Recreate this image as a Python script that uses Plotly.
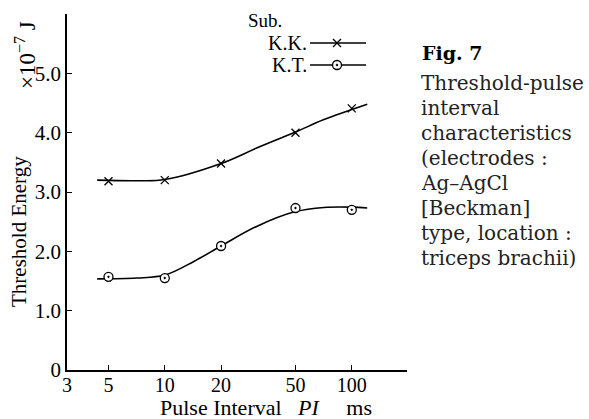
import math
import plotly.graph_objects as go

# ---- data ----
pulse_interval = [5, 10, 20, 50, 100]          # ms
kk_energy = [3.18, 3.20, 3.48, 4.00, 4.41]     # x10^-7 J, subject K.K.
kt_energy = [1.57, 1.55, 2.09, 2.73, 2.70]     # x10^-7 J, subject K.T.

# hand-drawn smoothing curves
kk_curve_x = [4.35, 7.1, 10, 20, 31, 50, 71, 121]
kk_curve_y = [3.20, 3.19, 3.21, 3.48, 3.74, 4.01, 4.22, 4.48]
kt_curve_x = [4.35, 7.1, 10, 14.3, 20, 31, 50, 71, 100, 121]
kt_curve_y = [1.535, 1.55, 1.60, 1.83, 2.09, 2.42, 2.67, 2.74, 2.745, 2.73]

x_tickvals = [3, 5, 10, 20, 50, 100]
x_ticktext = ["3", "5", "10", "20", "50", "100"]
y_tickvals = [0, 1, 2, 3, 4, 5]
y_ticktext = ["0", "1.0", "2.0", "3.0", "4.0", "5.0"]

caption_title = "<b>Fig. 7</b>"
caption_lines = ["Threshold-pulse", "interval", "characteristics",
                 "(electrodes :", "Ag–AgCl", "[Beckman]",
                 "type, location :", "triceps brachii)"]

SERIF = "Liberation Serif"
CAP = "DejaVu Serif"

W, H = 589, 419
ML, MR, MT, MB = 67, 182, 14, 49
PW = W - ML - MR
PH = H - MT - MB


def px(xp):
    return (xp - ML) / PW


def py(yp):
    return (H - MB - yp) / PH


fig = go.Figure()

line_style = dict(color="black", width=1.6, shape="spline", smoothing=1.0)
fig.add_trace(go.Scatter(x=kk_curve_x, y=kk_curve_y, mode="lines", line=line_style,
                         showlegend=False, hoverinfo="skip"))
fig.add_trace(go.Scatter(x=kt_curve_x, y=kt_curve_y, mode="lines", line=line_style,
                         showlegend=False, hoverinfo="skip"))

kk_marker = dict(symbol="x-thin-open", size=8, color="black", line=dict(color="black", width=1.3))
kt_marker = dict(symbol="circle-dot", size=9, color="white", line=dict(color="black", width=1.3))

fig.add_trace(go.Scatter(x=pulse_interval, y=kk_energy, mode="markers", marker=kk_marker,
                         name="K.K.", showlegend=False))
fig.add_trace(go.Scatter(x=pulse_interval, y=kt_energy, mode="markers", marker=kt_marker,
                         name="K.T.", showlegend=False))

# ---- hand-style legend on an invisible helper axis spanning the plot area ----
leg_x0, leg_x1, leg_xm = px(310), px(366), px(337)
for yy, mk in [(py(43), kk_marker), (py(65), kt_marker)]:
    fig.add_trace(go.Scatter(x=[leg_x0, leg_x1], y=[yy, yy], mode="lines",
                             line=dict(color="black", width=1.6), xaxis="x2", yaxis="y2",
                             showlegend=False, hoverinfo="skip"))
    fig.add_trace(go.Scatter(x=[leg_xm], y=[yy], mode="markers", marker=mk,
                             xaxis="x2", yaxis="y2", showlegend=False, hoverinfo="skip"))

annotations = [
    dict(text="Sub.", x=px(265), y=py(21), xref="paper", yref="paper",
         showarrow=False, font=dict(family=SERIF, size=19, color="black"),
         xanchor="center", yanchor="middle"),
    dict(text="K.K.", x=px(309), y=py(43), xref="paper", yref="paper",
         showarrow=False, font=dict(family=SERIF, size=20, color="black"),
         xanchor="right", yanchor="middle"),
    dict(text="K.T.", x=px(309), y=py(65), xref="paper", yref="paper",
         showarrow=False, font=dict(family=SERIF, size=20, color="black"),
         xanchor="right", yanchor="middle"),
    dict(text="Threshold Energy", x=px(19), y=py(232), xref="paper", yref="paper",
         showarrow=False, textangle=-90, font=dict(family=SERIF, size=21, color="black"),
         xanchor="center", yanchor="middle"),
    dict(text="×10<sup>−7</sup> J", x=px(25), y=py(55), xref="paper", yref="paper",
         showarrow=False, textangle=-90, font=dict(family=SERIF, size=23, color="black"),
         xanchor="center", yanchor="middle"),
    dict(text="Pulse Interval\u00a0\u00a0 <i>PI</i>\u00a0\u00a0\u00a0\u00a0 ms", x=px(266), y=py(407),
         xref="paper", yref="paper", showarrow=False,
         font=dict(family=SERIF, size=22, color="black"),
         xanchor="center", yanchor="middle"),
    dict(text=caption_title, x=px(420), y=py(53), xref="paper", yref="paper",
         showarrow=False, font=dict(family=CAP, size=19, color="black"),
         xanchor="left", yanchor="middle"),
]
cap_y = [83, 108, 133, 158, 183, 208, 233, 258]
for t, yy in zip(caption_lines, cap_y):
    annotations.append(dict(text=t, x=px(419), y=py(yy), xref="paper", yref="paper",
                            showarrow=False, font=dict(family=CAP, size=20, color="#222"),
                            xanchor="left", yanchor="middle"))

fig.update_layout(
    width=W, height=H,
    margin=dict(l=ML, r=MR, t=MT, b=MB, pad=0),
    paper_bgcolor="white", plot_bgcolor="rgba(0,0,0,0)",
    showlegend=False,
    font=dict(family=SERIF, color="black"),
    xaxis=dict(type="log", range=[math.log10(3), math.log10(3) + PW / 187.0],
               tickvals=x_tickvals, ticktext=x_ticktext,
               ticks="inside", ticklen=5, tickwidth=1.2, tickcolor="black",
               ticklabelstandoff=-4,
               showline=True, linecolor="black", linewidth=1.6,
               showgrid=False, zeroline=False,
               tickfont=dict(family=SERIF, size=20, color="black")),
    yaxis=dict(range=[0, 6.0], tickvals=y_tickvals, ticktext=y_ticktext,
               ticks="inside", ticklen=5, tickwidth=1.2, tickcolor="black",
               showline=True, linecolor="black", linewidth=1.6,
               showgrid=False, zeroline=False,
               tickfont=dict(family=SERIF, size=21, color="black")),
    xaxis2=dict(domain=[0, 1], range=[0, 1], anchor="y2", visible=False, fixedrange=True),
    yaxis2=dict(domain=[0, 1], range=[0, 1], anchor="x2", visible=False, fixedrange=True),
    annotations=annotations,
)

fig.write_html("out.html")
